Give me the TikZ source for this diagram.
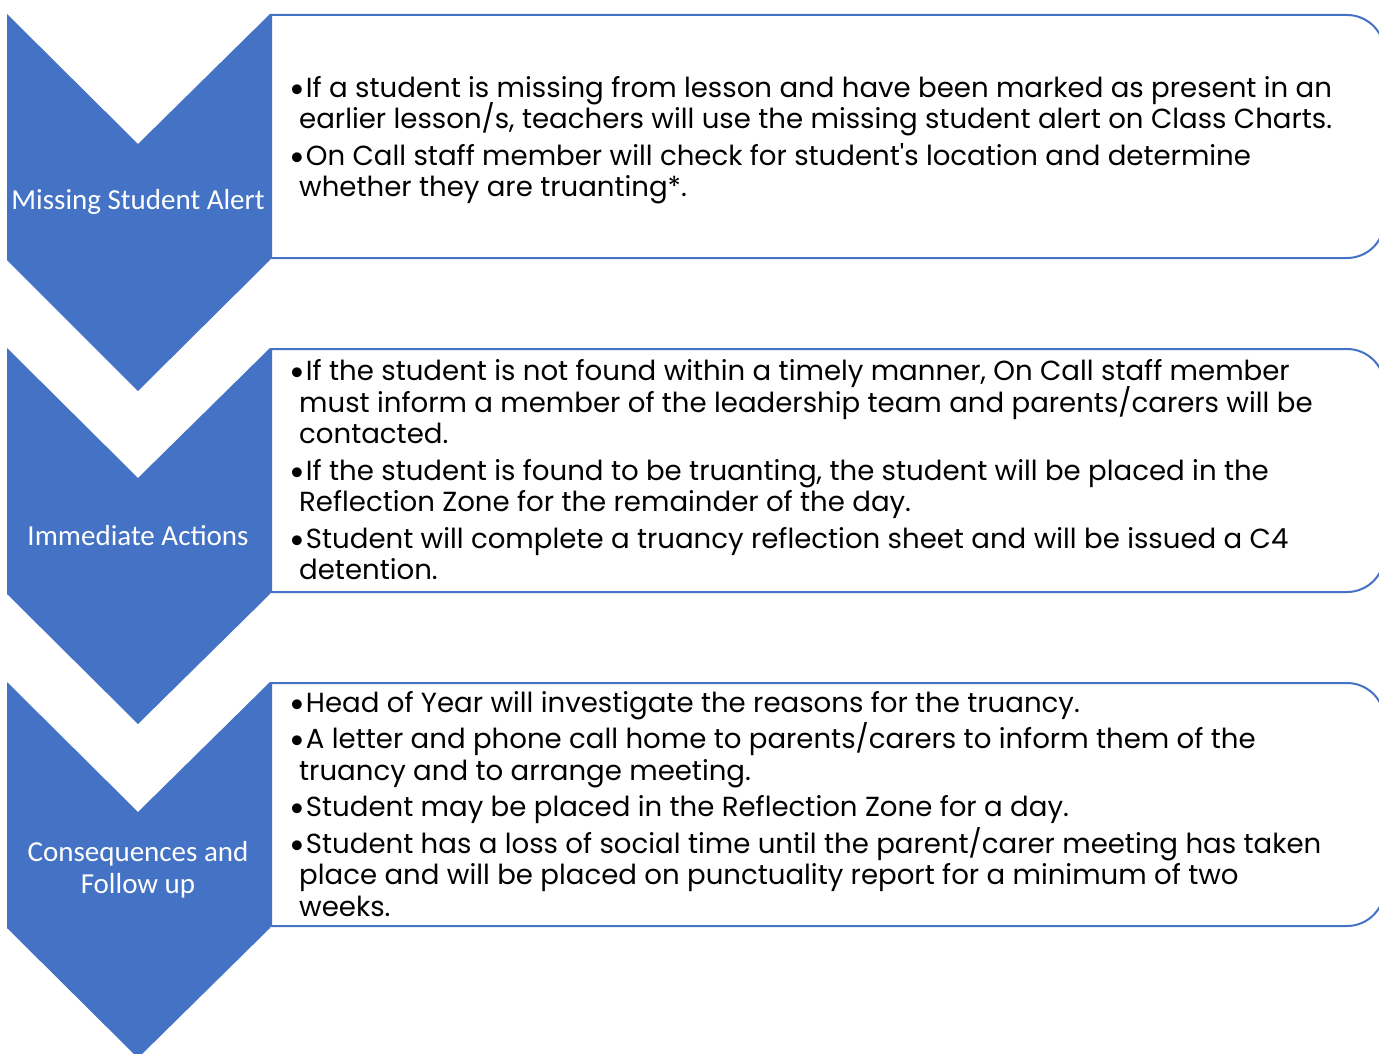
\documentclass[tikz,border=0pt]{standalone}
\usepackage{fontspec}
\setmainfont{Carlito}
\newfontfamily\gothic{Poppins}
\usepackage{tikz}

\definecolor{flowblue}{HTML}{4472C4}
\newcommand{\itm}{{\normalfont\textbullet}\hspace{2pt}}
\newcommand{\cont}{\hspace*{9pt}}
\newcommand{\tightlines}{\setlength{\lineskiplimit}{-20pt}}

\begin{document}
\begin{tikzpicture}[x=1pt,y=-1pt,
        chevron/.style={fill=flowblue,draw=none},
        textbox/.style={draw=flowblue,line width=2pt,fill=white},
        steplabel/.style={text=white,align=center,font=\fontsize{29}{32}\selectfont},
        bullets/.style={anchor=west,align=left,inner sep=0pt,
            font=\gothic\fontsize{27.6}{31.5}\selectfont\tightlines}]

    \useasboundingbox (0,0) rectangle (1379,1054);
    \clip (0,0) rectangle (1379,1054);

    % chevrons
    \path[chevron] (7,14) -- (138,144) -- (270,14) -- (270,260) -- (138,391) -- (7,260) -- cycle;
    \path[chevron] (7,348) -- (138,478) -- (270,348) -- (270,594) -- (138,724) -- (7,594) -- cycle;
    \path[chevron] (7,682) -- (138,812) -- (270,682) -- (270,928) -- (138,1058) -- (7,928) -- cycle;

    \node[steplabel] (alert) at (138,202) {Missing Student Alert};
    \node[steplabel] (actions) at (138,536) {Immediate Actions};
    \node[steplabel] (follow) at (138,870) {Consequences and\\Follow up};

    % text boxes, rounded on the right
    \draw[textbox] (271,258) -- (271,15) -- (1347,15) .. controls (1367,15) and (1384,31) .. (1384,51)
        -- (1384,222) .. controls (1384,242) and (1367,258) .. (1347,258) -- cycle;
    \draw[textbox] (271,592) -- (271,349) -- (1347,349) .. controls (1367,349) and (1384,365) .. (1384,385)
        -- (1384,556) .. controls (1384,576) and (1367,592) .. (1347,592) -- cycle;
    \draw[textbox] (271,926) -- (271,683) -- (1347,683) .. controls (1367,683) and (1384,699) .. (1384,719)
        -- (1384,890) .. controls (1384,910) and (1367,926) .. (1347,926) -- cycle;

    \node[bullets] (alerttext) at (290,140) {%
        \itm If a student is missing from lesson and have been marked as present in an\\
        \cont earlier lesson/s, teachers will use the missing student alert on Class Charts.\\[5pt]
        \itm On Call staff member will check for student's location and determine\\
        \cont whether they are truanting*.};

    \node[bullets] (actionstext) at (290,470) {%
        \itm If the student is not found within a timely manner, On Call staff member\\
        \cont must inform a member of the leadership team and parents/carers will be\\
        \cont contacted.\\[5pt]
        \itm If the student is found to be truanting, the student will be placed in the\\
        \cont Reflection Zone for the remainder of the day.\\[5pt]
        \itm Student will complete a truancy reflection sheet and will be issued a C4\\
        \cont detention.};

    \node[bullets] (followtext) at (290,804) {%
        \itm Head of Year will investigate the reasons for the truancy.\\[5pt]
        \itm A letter and phone call home to parents/carers to inform them of the\\
        \cont truancy and to arrange meeting.\\[5pt]
        \itm Student may be placed in the Reflection Zone for a day.\\[5pt]
        \itm Student has a loss of social time until the parent/carer meeting has taken\\
        \cont place and will be placed on punctuality report for a minimum of two\\
        \cont weeks.};
\end{tikzpicture}
\end{document}
